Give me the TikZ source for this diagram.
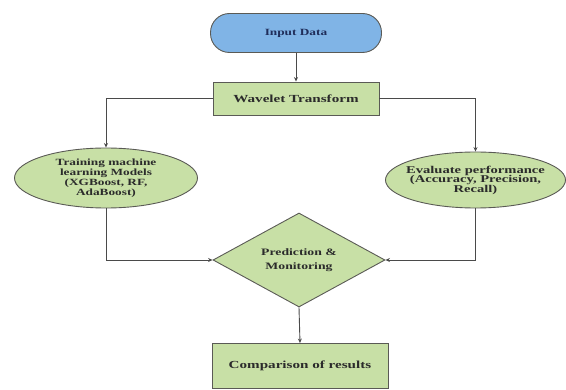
\documentclass[tikz,border=0pt]{standalone}
\usepackage{fontspec}
\setmainfont{Liberation Serif}[FakeStretch=1.4]
\usetikzlibrary{shapes.geometric,arrows.meta}
\definecolor{bluefill}{HTML}{80B4E6}
\definecolor{greenfill}{HTML}{C8E0A6}
\definecolor{edgecol}{HTML}{4A4A4A}
\definecolor{bordcol}{HTML}{5A5A55}
\definecolor{navytext}{HTML}{1F2D5A}
\definecolor{darktext}{HTML}{2B2B2B}
\tikzset{
  base/.style={draw=bordcol, line width=0.9pt, inner sep=0pt, align=center,
    text=darktext, font=\fontsize{9.5}{10}\selectfont\bfseries},
  startbox/.style={base, fill=bluefill, rounded corners=19pt, minimum width=171pt,
    minimum height=39pt, text=navytext},
  procbox/.style={base, fill=greenfill, rectangle, minimum width=166pt, minimum height=33pt,
    font=\fontsize{10.8}{11}\selectfont\bfseries},
  ellbox/.style={base, fill=greenfill, ellipse, minimum width=183pt, minimum height=60pt},
  decbox/.style={base, fill=greenfill, diamond, aspect=1.83, minimum width=172pt, minimum height=94pt,
    font=\fontsize{9.8}{14}\selectfont\bfseries},
  conn/.style={draw=edgecol, line width=0.9pt, -{Stealth[length=4.5pt,width=4pt]}},
}
\begin{document}
\begin{tikzpicture}[x=1pt,y=-1pt]
\useasboundingbox (0,0) rectangle (566,390);
\node[startbox] (input) at (296,33) {Input Data};
\node[procbox] (wave) at (296,98.5) {Wavelet Transform};
\node[ellbox] (train) at (106,178) {Training machine\\learning Models\\(XGBoost, RF,\\AdaBoost)};
\node[ellbox, minimum width=180pt, minimum height=56pt, inner xsep=-25pt, inner ysep=-6pt,
  font=\fontsize{10.4}{9.5}\selectfont\bfseries] (eval) at (475.5,180) {Evaluate performance\\(Accuracy, Precision,\\Recall)};
\node[decbox] (pred) at (299,260) {Prediction \&\\Monitoring};
\node[procbox, minimum width=176pt, minimum height=45pt] (comp) at (300,366) {Comparison of results};
\draw[conn] (input) -- (wave);
\draw[conn] (wave.west) -| (train.north);
\draw[conn] (wave.east) -| (eval.north);
\draw[conn] (train.south) |- (pred.west);
\draw[conn] (eval.south) |- (pred.east);
\draw[conn] (pred.south) -- (comp.north);
\end{tikzpicture}
\end{document}
